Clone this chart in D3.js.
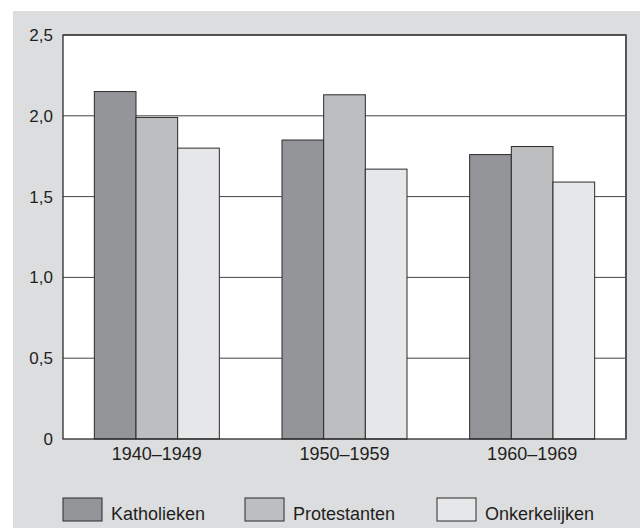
<!DOCTYPE html>
<html>
<head>
<meta charset="utf-8">
<script src="https://cdn.jsdelivr.net/npm/d3@7"></script>
<style>
  body { margin: 0; background: #fff; }
  text { font-family: "Liberation Sans", Arial, sans-serif; fill: #231f20; }
</style>
</head>
<body>
<div id="chart"></div>
<script>
// data
var periods = ["1940\u20131949", "1950\u20131959", "1960\u20131969"];
var groups = ["Katholieken", "Protestanten", "Onkerkelijken"];
var katholieken = [2.15, 1.85, 1.76];
var protestanten = [1.99, 2.13, 1.81];
var onkerkelijken = [1.80, 1.67, 1.59];
var yTicks = [0, 0.5, 1.0, 1.5, 2.0, 2.5];
var colors = ["#939598", "#bcbec0", "#e6e7e8"];

var series = [katholieken, protestanten, onkerkelijken];
var rows = periods.map(function(p, i) {
  return { period: p, values: groups.map(function(g, j) { return { key: g, value: series[j][i] }; }) };
});

var svgWidth = 640, svgHeight = 530;
var margin = { top: 35, right: 14, bottom: 91, left: 63 };
var width = svgWidth - margin.left - margin.right;
var height = svgHeight - margin.top - margin.bottom;

var svg = d3.select("#chart").append("svg")
  .attr("width", svgWidth)
  .attr("height", svgHeight);

// gray panel
svg.append("rect")
  .attr("x", 13).attr("y", 11)
  .attr("width", svgWidth - 13).attr("height", 517)
  .attr("fill", "#dcdddf");

var chartGroup = svg.append("g")
  .attr("transform", `translate(${margin.left}, ${margin.top})`);

chartGroup.append("rect")
  .attr("width", width).attr("height", height)
  .attr("fill", "#fff");

var x0 = d3.scaleBand().domain(periods).range([0, width])
  .paddingInner(0.334).paddingOuter(0.167);
var x1 = d3.scaleBand().domain(groups).range([0, x0.bandwidth()]);
var y = d3.scaleLinear().domain([0, 2.5]).range([height, 0]);
var color = d3.scaleOrdinal().domain(groups).range(colors);

// gridlines
chartGroup.append("g")
  .selectAll("line")
  .data(yTicks.slice(1))
  .enter().append("line")
  .attr("x1", 0).attr("x2", width)
  .attr("y1", d => y(d)).attr("y2", d => y(d))
  .attr("stroke", "#444").attr("stroke-width", 1);

// bars
var groupSel = chartGroup.selectAll(".period")
  .data(rows)
  .enter().append("g")
  .attr("transform", d => `translate(${x0(d.period)}, 0)`);

groupSel.selectAll("rect")
  .data(d => d.values)
  .enter().append("rect")
  .attr("x", d => x1(d.key))
  .attr("y", d => y(d.value))
  .attr("width", x1.bandwidth())
  .attr("height", d => height - y(d.value))
  .attr("fill", d => color(d.key))
  .attr("stroke", "#2b2b2b")
  .attr("stroke-width", 1);

// frame
chartGroup.append("rect")
  .attr("width", width).attr("height", height)
  .attr("fill", "none")
  .attr("stroke", "#2b2b2b").attr("stroke-width", 1.3);
chartGroup.append("line")
  .attr("x1", width).attr("x2", width).attr("y1", 0).attr("y2", height)
  .attr("stroke", "#555").attr("stroke-width", 2);

// y axis
var leftAxis = d3.axisLeft(y).tickValues(yTicks).tickSize(0).tickPadding(10)
  .tickFormat(d => d === 0 ? "0" : d3.format(".1f")(d).replace(".", ","));
var yAxis = chartGroup.append("g").call(leftAxis)
  .attr("font-size", 17).attr("font-family", null);
yAxis.select(".domain").remove();
yAxis.selectAll("text").attr("fill", "#231f20");

// x axis
var bottomAxis = d3.axisBottom(x0).tickSize(0).tickPadding(8);
var xAxis = chartGroup.append("g")
  .attr("transform", `translate(0, ${height})`)
  .call(bottomAxis)
  .attr("font-size", 18).attr("font-family", null);
xAxis.select(".domain").remove();
xAxis.selectAll("text").attr("fill", "#231f20");

// legend
var legendX = [63, 245, 437];
var legend = svg.append("g").selectAll("g")
  .data(groups)
  .enter().append("g")
  .attr("transform", (d, i) => `translate(${legendX[i]}, 498)`);
legend.append("rect")
  .attr("width", 39).attr("height", 23)
  .attr("fill", d => color(d))
  .attr("stroke", "#2b2b2b").attr("stroke-width", 1);
legend.append("text")
  .attr("x", 48).attr("y", 22)
  .attr("font-size", 18)
  .text(d => d);
</script>
</body>
</html>
